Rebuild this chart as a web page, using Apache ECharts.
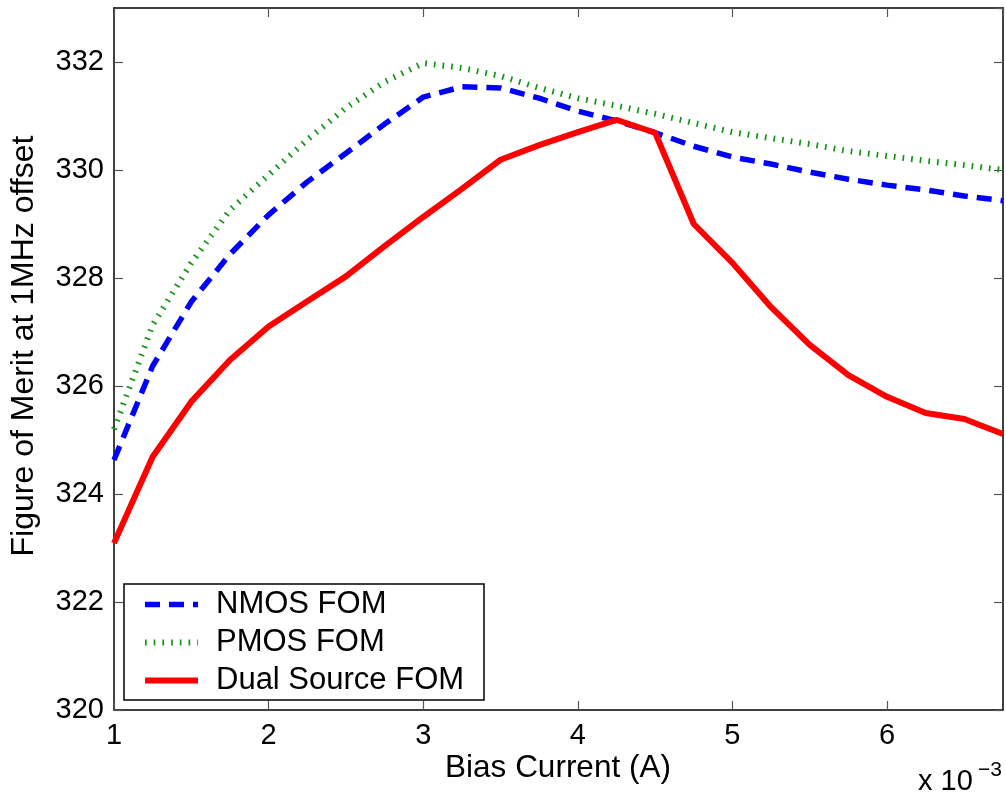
<!DOCTYPE html>
<html>
<head>
<meta charset="utf-8">
<script src="https://cdn.jsdelivr.net/npm/echarts@6/dist/echarts.min.js"></script>
<style>
  html, body { margin: 0; padding: 0; background: #fff; }
  #chart { width: 1006px; height: 798px; }
</style>
</head>
<body>
<div id="chart"></div>
<script>
const xValues = [1, 1.25, 1.5, 1.75, 2, 2.25, 2.5, 2.75, 3, 3.25, 3.5, 3.75, 4, 4.25, 4.5, 4.75, 5, 5.25, 5.5, 5.75, 6, 6.25, 6.5, 6.75];
const nmosFom = [324.63, 326.37, 327.56, 328.44, 329.17, 329.78, 330.31, 330.85, 331.35, 331.54, 331.52, 331.33, 331.09, 330.91, 330.69, 330.44, 330.24, 330.11, 329.96, 329.83, 329.72, 329.63, 329.52, 329.43];
const pmosFom = [325.2, 327.13, 328.28, 329.26, 329.91, 330.56, 331.15, 331.63, 331.98, 331.89, 331.74, 331.52, 331.33, 331.19, 331.04, 330.87, 330.70, 330.59, 330.48, 330.35, 330.26, 330.17, 330.09, 330.0];
const dualFom = [323.09, 324.69, 325.71, 326.48, 327.1, 327.57, 328.03, 328.59, 329.13, 329.65, 330.19, 330.46, 330.7, 330.93, 330.69, 329.0, 328.28, 327.46, 326.76, 326.2, 325.8, 325.5, 325.39, 325.11];
const seriesNames = ['NMOS FOM', 'PMOS FOM', 'Dual Source FOM'];
const xTitle = 'Bias Current (A)';
const yTitle = 'Figure of Merit at 1MHz offset';

const FONT = '"Liberation Sans", Arial, Helvetica, sans-serif';
const pairs = arr => xValues.map((x, i) => [x, arr[i]]);

const nmosLine = { color: '#0000ff', width: 5.5, type: [15, 9] };
const pmosLine = { color: '#139513', width: 6, type: [1.7, 7] };
const dualLine = { color: '#ff0000', width: 6, type: 'solid' };

const chart = echarts.init(document.getElementById('chart'), null, { renderer: 'canvas' });

const axisCommon = {
  axisLine: { show: true, onZero: false, lineStyle: { color: '#000', width: 1.5 } },
  axisTick: { show: true, inside: true, length: 9, lineStyle: { color: '#555', width: 1.2 } },
  splitLine: { show: false }
};

chart.setOption({
  animation: false,
  backgroundColor: '#fff',
  grid: { left: 114, right: 3, top: 8, bottom: 88, containLabel: false },
  xAxis: [
    Object.assign({}, axisCommon, {
      type: 'value', min: 1, max: 6.75, interval: 1, position: 'bottom',
      axisLabel: { show: true, margin: 11, color: '#000', fontSize: 29, fontFamily: FONT, showMaxLabel: false }
    }),
    Object.assign({}, axisCommon, {
      type: 'value', min: 1, max: 6.75, interval: 1, position: 'top',
      axisLabel: { show: false }
    })
  ],
  yAxis: [
    Object.assign({}, axisCommon, {
      type: 'value', min: 320, max: 333, interval: 2, position: 'left',
      axisLabel: { show: true, margin: 10, color: '#000', fontSize: 29, fontFamily: FONT, showMaxLabel: false }
    }),
    Object.assign({}, axisCommon, {
      type: 'value', min: 320, max: 333, interval: 2, position: 'right',
      axisLabel: { show: false }
    })
  ],
  legend: {
    orient: 'vertical',
    left: 124, top: 589,
    padding: [0, 0, 0, 18],
    itemWidth: 53, itemHeight: 14,
    itemGap: 7,
    z: 20,
    textStyle: { fontSize: 31, fontFamily: FONT, color: '#000', lineHeight: 30, padding: [0, 0, 0, 13] },
    data: [
      { name: seriesNames[0], itemStyle: { opacity: 0 }, lineStyle: nmosLine },
      { name: seriesNames[1], itemStyle: { opacity: 0 }, lineStyle: pmosLine },
      { name: seriesNames[2], itemStyle: { opacity: 0 }, lineStyle: dualLine }
    ]
  },
  graphic: [
    { type: 'rect', z: 1, silent: true, shape: { x: 124, y: 584, width: 360, height: 116 },
      style: { fill: '#fff', stroke: '#000', lineWidth: 1.5 } },
    { type: 'text', z: 6, x: 558, y: 768,
      style: { text: xTitle, font: '31.5px ' + FONT, fill: '#000', align: 'center', verticalAlign: 'middle' } },
    { type: 'text', z: 6, x: 24, y: 346, rotation: Math.PI / 2,
      style: { text: yTitle, font: '32px ' + FONT, fill: '#000', align: 'center', verticalAlign: 'middle' } },
    { type: 'text', z: 6, x: 918, y: 782,
      style: { text: 'x 10', font: '29px ' + FONT, fill: '#000', align: 'left', verticalAlign: 'middle' } },
    { type: 'text', z: 6, x: 978, y: 770,
      style: { text: '\u22123', font: '21px ' + FONT, fill: '#000', align: 'left', verticalAlign: 'middle' } }
  ],
  series: [
    { name: seriesNames[0], type: 'line', data: pairs(nmosFom), showSymbol: false, symbol: 'none',
      lineStyle: nmosLine, itemStyle: { color: nmosLine.color }, z: 3 },
    { name: seriesNames[1], type: 'line', data: pairs(pmosFom), showSymbol: false, symbol: 'none',
      lineStyle: pmosLine, itemStyle: { color: pmosLine.color }, z: 2 },
    { name: seriesNames[2], type: 'line', data: pairs(dualFom), showSymbol: false, symbol: 'none',
      lineStyle: dualLine, itemStyle: { color: dualLine.color }, z: 4 }
  ]
});
</script>
</body>
</html>
